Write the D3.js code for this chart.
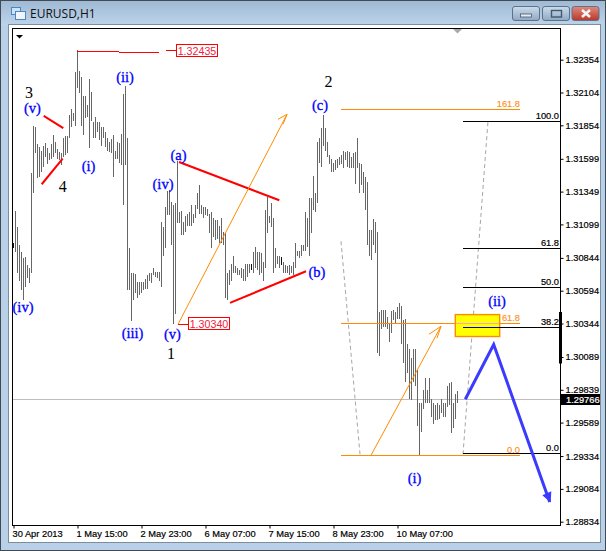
<!DOCTYPE html>
<html><head><meta charset="utf-8">
<script src="https://cdn.jsdelivr.net/npm/d3@7"></script>
<style>html,body{margin:0;padding:0;background:#b9d1e8;overflow:hidden}svg{display:block}</style>
</head><body><svg id="c" width="606" height="551"></svg>
<script>
// Prices are stored in pips (1 pip = 0.0001); bars are hourly, oldest first.
const highPips=[13096,13120,13108,13094,13089,13084,13085,13079,13077,13149,13185,13184,13171,13169,13166,13170,13172,13168,13164,13171,13178,13173,13167,13165,13164,13176,13177,13177,13193,13198,13195,13226,13243,13227,13222,13208,13208,13201,13221,13211,13188,13192,13188,13188,13184,13184,13180,13176,13173,13175,13178,13166,13173,13172,13179,13209,13215,13176,13092,13073,13073,13072,13066,13066,13066,13066,13068,13071,13073,13073,13077,13074,13074,13074,13112,13108,13123,13135,13136,13127,13125,13126,13158,13119,13120,13112,13116,13118,13119,13125,13118,13125,13134,13140,13125,13123,13123,13122,13118,13119,13115,13113,13113,13109,13115,13104,13103,13073,13075,13080,13086,13078,13077,13075,13077,13076,13080,13080,13080,13080,13089,13093,13089,13089,13088,13081,13121,13131,13116,13126,13115,13092,13086,13086,13085,13081,13079,13078,13079,13078,13081,13096,13090,13090,13094,13094,13119,13115,13130,13130,13147,13134,13173,13176,13183,13193,13183,13173,13163,13160,13157,13159,13160,13161,13163,13166,13165,13166,13165,13161,13164,13165,13176,13157,13156,13150,13146,13142,13106,13106,13114,13112,13104,13043,13045,13045,13045,13039,13035,13044,13045,13043,13047,13050,13048,13037,13038,13019,13015,13008,13015,13015,12999,12974,12974,12984,12993,12984,12993,12977,12974,12972,12974,12972,12977,12974,12974,12987,12989,12990,12974,12981,12983];
const lowPips=[13092,13089,13073,13067,13060,13052,13062,13069,13065,13073,13134,13164,13145,13146,13150,13154,13161,13156,13159,13160,13161,13164,13160,13159,13155,13161,13163,13164,13176,13184,13189,13185,13214,13210,13185,13178,13191,13192,13168,13189,13176,13176,13180,13174,13170,13176,13169,13166,13165,13164,13146,13160,13160,13157,13155,13125,13155,13060,13060,13036,13052,13058,13054,13056,13058,13060,13061,13061,13067,13065,13071,13070,13069,13067,13062,13086,13092,13117,13117,13094,13034,13042,13111,13111,13102,13102,13104,13109,13109,13109,13111,13115,13122,13118,13118,13115,13117,13116,13103,13092,13100,13098,13099,13096,13096,13094,13054,13052,13064,13067,13073,13073,13071,13071,13069,13067,13067,13070,13073,13075,13073,13077,13075,13071,13073,13067,13077,13103,13111,13108,13073,13077,13080,13077,13079,13073,13073,13073,13071,13073,13071,13077,13086,13084,13086,13090,13090,13093,13086,13103,13121,13119,13126,13157,13154,13170,13166,13161,13156,13150,13150,13151,13153,13155,13156,13153,13159,13154,13153,13153,13153,13141,13153,13134,13140,13134,13121,13094,13086,13083,13094,13088,13012,13010,13030,13032,13032,13030,13020,13027,13037,13035,13038,13038,13019,13004,12990,12997,12977,12976,12990,12987,12956,12934,12952,12969,12974,12974,12974,12963,12958,12961,12961,12962,12966,12963,12963,12971,12972,12951,12955,12962,12974];
const blackBarIdx=[0,119,134];

const priceTicks=[1.32354,1.32104,1.31854,1.31599,1.31349,1.31099,1.30844,1.30594,1.30344,1.30089,1.29839,1.29589,1.29334,1.29084,1.28834];
const priceRange=[1.28834,1.32354];
const bidPrice=1.29766;
const timeTickIdx=[0,32,64,96,128,160,192];
const timeLabels=["30 Apr 2013","1 May 15:00","2 May 23:00","6 May 07:00","7 May 15:00","8 May 23:00","10 May 07:00"];

// Fibonacci tools: [label, pips]
const fibBlack=[["100.0",13188.3],["61.8",13091.8],["50.0",13061.8],["38.2",13031.3],["0.0",12935.3]];
const fibOrange=[["161.8",13197.7],["61.8",13034.2],["0.0",12934.0]];
const fibBlackSpan=[224.75,273.25];
const fibOrangeSpan=[163.75,253.25];
const zone=[220.9,243.1,13041.2,13024.5];

// Drawn lines: each is a list of [bar, pips]
const redThick=[[[15.1,13192.6],[24.9,13183.2]],[[14.1,13140.5],[24.6,13160.1]],[[82.75,13157.5],[132.9,13128.3]],[[108.25,13050.1],[146.25,13074.2]]];
const redThin=[[[31.75,13241.5],[52.75,13241.5]],[[52.75,13240.9],[72.75,13240.9]],[[76.25,13242.4],[81.25,13242.4]],[[82.25,13033.8],[87.25,13033.8]]];
const orangeArrows=[
 [[[82.25,13033.8],[136.75,13193.8]],[[132.25,13190],[136.75,13193.8],[134.75,13186.2]]],
 [[[178.75,12934],[213.75,13032.3]],[[207.75,13026.2],[213.75,13032.3],[211.75,13023.2]]]];
const greyDashed=[[[163.75,13097.1],[173.25,12934.8]],[[224.75,12934.8],[237.25,13188.5]]];
const bluePath=[[225.9,12976.7],[240.1,13018.4],[268.1,12898.5]];
const blueHead=[[268.6,12898],[264.4,12903.6],[268.9,12906.6]];

// [text, bar, pips, colour]
const waveLabels=[["3",7.75,13210.1,"k"],["(v)",9.5,13198.4,"b"],["4",24.6,13138.2,"k"],["(i)",37.5,13154.2,"b"],["(ii)",55.75,13222,"b"],["(iv)",4.75,13046.8,"b"],["(iii)",59.5,13027,"b"],["(v)",79.5,13025.9,"b"],["1",78.75,13011,"k"],["(iv)",74.75,13140.5,"b"],["(a)",82.5,13162.6,"b"],["(b)",151.75,13073.5,"b"],["(c)",153.25,13200.7,"b"],["2",157.5,13218.6,"k"],["(i)",200.5,12916.5,"b"],["(ii)",241.75,13051.4,"b"]];
const priceFlags=[["1.32435",81.25,13242],["1.30340",87.25,13033.8]];
const title="EURUSD,H1";

const svg=d3.select("#c");
const sans="'Liberation Sans',Arial,sans-serif";
const x=d3.scaleLinear().domain([0,222]).range([13.5,457.5]);
const y=d3.scaleLinear().domain(priceRange).range([521.7,59.7]);
const yp=p=>y(p/10000);
const line=d3.line().x(d=>x(d[0])).y(d=>yp(d[1]));
const bidY=Math.round(y(bidPrice))+0.5;

/* window chrome */
const defs=svg.append("defs");
const g=defs.append("linearGradient").attr("id","tb").attr("x1",0).attr("x2",0).attr("y1",0).attr("y2",1);
g.append("stop").attr("offset",0).attr("stop-color","#9fb9d3");
g.append("stop").attr("offset",1).attr("stop-color","#bcd3ea");
const g2=defs.append("linearGradient").attr("id","cl").attr("x1",0).attr("x2",0).attr("y1",0).attr("y2",1);
g2.append("stop").attr("offset",0).attr("stop-color","#e08a7c");
g2.append("stop").attr("offset",1).attr("stop-color","#b8372c");
const g3=defs.append("linearGradient").attr("id","bt").attr("x1",0).attr("x2",0).attr("y1",0).attr("y2",1);
g3.append("stop").attr("offset",0).attr("stop-color","#cbdcec");
g3.append("stop").attr("offset",1).attr("stop-color","#8fa9c4");

svg.append("rect").attr("width",606).attr("height",551).attr("fill","#b9d1e8");
svg.append("rect").attr("width",606).attr("height",25).attr("fill","url(#tb)");
svg.append("rect").attr("x",0.5).attr("y",0.5).attr("width",605).attr("height",550).attr("fill","none").attr("stroke","#3f4a55");
svg.append("rect").attr("x",8.5).attr("y",24.5).attr("width",592).attr("height",518).attr("fill","#fff").attr("stroke","#7f8c99");

// title icon and text
svg.append("rect").attr("x",11.5).attr("y",7.5).attr("width",9).attr("height",7).attr("fill","#cfe3f7").attr("stroke","#4a86c5");
svg.append("rect").attr("x",15.5).attr("y",11.5).attr("width",10).attr("height",8).attr("fill","#eef5fc").attr("stroke","#4a86c5");
svg.append("text").attr("x",30).attr("y",18).attr("font-family","'Open Sans',sans-serif").attr("font-size",12).attr("fill","#111").text(title);
[[513,"url(#bt)"],[543,"url(#bt)"],[572.5,"url(#cl)"]].forEach(([bx,f])=>{
  svg.append("rect").attr("x",bx-0.5).attr("y",6.5).attr("width",27).attr("height",14).attr("rx",2.5).attr("fill",f).attr("stroke","#5d7187");
});
svg.append("rect").attr("x",520.5).attr("y",14).attr("width",11).attr("height",3).attr("fill","#e8edf2").attr("stroke","#46586b").attr("stroke-width",.8);
svg.append("rect").attr("x",551.5).attr("y",10.5).attr("width",10).attr("height",6.5).attr("fill","none").attr("stroke","#46586b").attr("stroke-width",1.4);
svg.append("path").attr("d","M582 10L590 17M590 10L582 17").attr("stroke","#f4f4f4").attr("stroke-width",2.6);

/* plot frame */
svg.append("rect").attr("x",12.5).attr("y",28.5).attr("width",548).attr("height",497).attr("fill","#fff").attr("stroke","#000").attr("shape-rendering","crispEdges");
svg.append("path").attr("d","M16 35L23 35L19.5 38.5Z").attr("fill","#000");
svg.append("path").attr("d","M453 29L462 29L457.5 33.5Z").attr("fill","#aaa");

/* bid line under bars */
svg.append("line").attr("x1",13).attr("x2",560).attr("y1",bidY).attr("y2",bidY).attr("stroke","#bdbdbd").attr("shape-rendering","crispEdges");

/* grey dashed fib trend lines */
svg.selectAll(".dash").data(greyDashed).join("path").attr("d",line).attr("fill","none").attr("stroke","#a6a6a6").attr("stroke-dasharray","4 3");

/* bars */
svg.append("g").selectAll("line").data(highPips).join("line")
  .attr("x1",(d,i)=>x(i)).attr("x2",(d,i)=>x(i))
  .attr("y1",d=>yp(d)).attr("y2",(d,i)=>yp(lowPips[i]))
  .attr("stroke",(d,i)=>blackBarIdx.includes(i)?"#111":"#666")
  .attr("shape-rendering","crispEdges");

/* orange fib */
svg.selectAll(".fo").data(fibOrange).join("line")
  .attr("x1",x(fibOrangeSpan[0])).attr("x2",x(fibOrangeSpan[1]))
  .attr("y1",d=>yp(d[1])).attr("y2",d=>yp(d[1]))
  .attr("stroke","#ff8c00").attr("shape-rendering","crispEdges");

/* yellow zone */
svg.append("rect").attr("x",x(zone[0])).attr("width",x(zone[1])-x(zone[0]))
  .attr("y",yp(zone[2])).attr("height",yp(zone[3])-yp(zone[2]))
  .attr("fill","#ffff00").attr("stroke","#ff8c00").attr("stroke-width",1.4);
svg.append("line").attr("x1",x(zone[0])+1).attr("x2",x(zone[1])-1).attr("y1",yp(fibOrange[1][1])).attr("y2",yp(fibOrange[1][1])).attr("stroke","#ffa0d0").attr("shape-rendering","crispEdges");
svg.selectAll(".fot").data(fibOrange).join("text")
  .attr("x",x(fibOrangeSpan[1])).attr("y",d=>yp(d[1])-2.5).attr("text-anchor","end")
  .attr("font-family",sans).attr("font-size",9.3).attr("fill","#ff9020").attr("stroke","#ff9020").attr("stroke-width",.15).text(d=>d[0]);

/* black fib */
svg.selectAll(".fb").data(fibBlack).join("line")
  .attr("x1",x(fibBlackSpan[0])).attr("x2",x(fibBlackSpan[1]))
  .attr("y1",d=>yp(d[1])).attr("y2",d=>yp(d[1]))
  .attr("stroke","#000").attr("shape-rendering","crispEdges");
svg.append("line").attr("x1",x(fibBlackSpan[0])).attr("x2",x(zone[1])-1).attr("y1",yp(13031.3)).attr("y2",yp(13031.3)).attr("stroke","#0000d0").attr("shape-rendering","crispEdges");
svg.selectAll(".fbt").data(fibBlack).join("text")
  .attr("x",x(fibBlackSpan[1])-1).attr("y",d=>yp(d[1])-2.5).attr("text-anchor","end")
  .attr("font-family",sans).attr("font-size",9.3).attr("fill","#000").attr("stroke","#000").attr("stroke-width",.2).text(d=>d[0]);

/* trend lines */
svg.selectAll(".rt").data(redThick).join("path").attr("d",line).attr("fill","none").attr("stroke","#ff0000").attr("stroke-width",2);
svg.selectAll(".rn").data(redThin).join("path").attr("d",line).attr("fill","none").attr("stroke","#ff0000").attr("shape-rendering","crispEdges");
orangeArrows.forEach(a=>a.forEach(s=>svg.append("path").attr("d",line(s)).attr("fill","none").attr("stroke","#ff8c00")));
svg.append("path").attr("d",line(bluePath)).attr("fill","none").attr("stroke","#3b3bff").attr("stroke-width",3).attr("stroke-linejoin","miter");
svg.append("path").attr("d",line(blueHead)+"Z").attr("fill","#3b3bff");

/* price flags */
priceFlags.forEach(f=>{
  const fx=x(f[1]),fy=yp(f[2]);
  svg.append("rect").attr("x",Math.round(fx)+.5).attr("y",Math.round(fy)-6.5).attr("width",41).attr("height",12).attr("fill","#fff").attr("stroke","#ff0000");
  svg.append("text").attr("x",fx+21).attr("y",fy+3.8).attr("text-anchor","middle").attr("font-family",sans).attr("font-size",10.7).attr("fill","#f02040").text(f[0]);
});

/* wave labels */
svg.selectAll(".w").data(waveLabels).join("text")
  .attr("x",d=>x(d[1])).attr("y",d=>yp(d[2])).attr("dy","0.32em").attr("text-anchor","middle")
  .attr("font-family","'Liberation Serif','Times New Roman',serif")
  .attr("font-size",d=>d[3]==="k"?16:14.5)
  .attr("fill",d=>d[3]==="k"?"#000":"#0000ff")
  .attr("stroke",d=>d[3]==="k"?"none":"#0000ff").attr("stroke-width",.3).text(d=>d[0]);

/* axes */
const yAxis=d3.axisRight(y).tickValues(priceTicks).tickFormat(d3.format(".5f")).tickSize(3).tickPadding(2);
const ya=svg.append("g").attr("transform","translate(560.5,0)").call(yAxis);
ya.select(".domain").remove();
ya.selectAll("text").attr("font-family",sans).attr("font-size",9.3).attr("fill","#000").attr("stroke","#000").attr("stroke-width",.2);
ya.selectAll("line").attr("stroke","#000");

const xAxis=d3.axisBottom(x).tickValues(timeTickIdx).tickFormat((d,i)=>timeLabels[i]).tickSize(3).tickPadding(2);
const xa=svg.append("g").attr("transform","translate(0,525.5)").call(xAxis);
xa.select(".domain").remove();
xa.selectAll("text").attr("font-family",sans).attr("font-size",9.3).attr("fill","#000").attr("stroke","#000").attr("stroke-width",.2).attr("text-anchor","start").attr("dx",-1.5);
xa.selectAll("line").attr("stroke","#000");

svg.append("rect").attr("x",559).attr("width",3).attr("y",312).attr("height",51.5).attr("fill","#000");

/* current price tag */
svg.append("rect").attr("x",561).attr("width",39).attr("y",bidY-5.5).attr("height",11).attr("fill","#000");
svg.append("text").attr("x",566).attr("y",bidY+3.4).attr("font-family",sans).attr("font-size",9.3).attr("fill","#fff").attr("stroke","#fff").attr("stroke-width",.2).text(d3.format(".5f")(bidPrice));
</script></body></html>
